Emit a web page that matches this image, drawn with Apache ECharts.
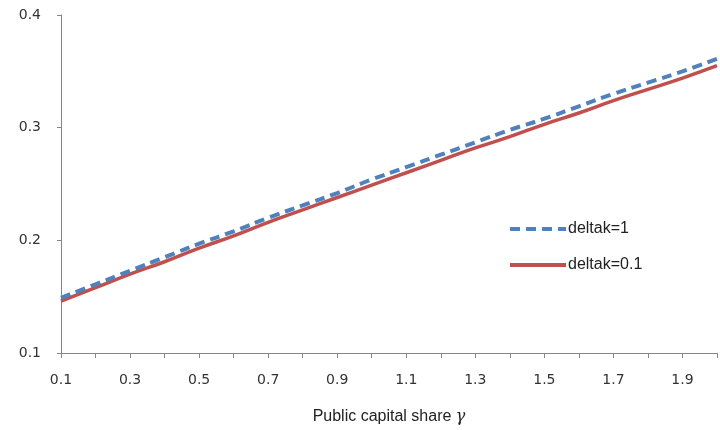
<!DOCTYPE html>
<html>
<head>
<meta charset="utf-8">
<script src="https://cdn.jsdelivr.net/npm/echarts@6/dist/echarts.min.js"></script>
<style>
  html, body { margin: 0; padding: 0; background: #fff; }
  #chart { width: 720px; height: 430px; }
</style>
</head>
<body>
<div id="chart"></div>
<script>
// public capital share gamma
const gammaVals = [0.1, 0.2, 0.3, 0.4, 0.5, 0.6, 0.7, 0.8, 0.9, 1.0,
                   1.1, 1.2, 1.3, 1.4, 1.5, 1.6, 1.7, 1.8, 1.9, 2.0];
const deltak1 = [0.149, 0.161, 0.173, 0.185, 0.197, 0.208, 0.220, 0.231, 0.242, 0.254,
                 0.265, 0.276, 0.287, 0.298, 0.308, 0.319, 0.330, 0.340, 0.350, 0.361];
const deltak01 = [0.146, 0.158, 0.170, 0.181, 0.193, 0.204, 0.216, 0.227, 0.238, 0.249,
                  0.260, 0.271, 0.282, 0.292, 0.303, 0.313, 0.324, 0.334, 0.344, 0.355];
const yTicks = [0.1, 0.2, 0.3, 0.4];

const chart = echarts.init(document.getElementById('chart'));

const pairs = arr => gammaVals.map((g, i) => [g, arr[i]]);
const axisGrey = '#868686';

const option = {
  animation: false,
  backgroundColor: '#fff',
  grid: { left: 61, right: -8, top: 15, bottom: 75 },
  legend: {
    orient: 'vertical',
    left: 503,
    top: 216,
    itemWidth: 56,
    itemHeight: 14,
    itemGap: 20,
    itemStyle: { color: 'transparent', borderColor: 'transparent', borderWidth: 0 },
    lineStyle: { width: 4 },
    textStyle: { fontFamily: 'Liberation Sans', fontSize: 16, color: '#222', padding: [0, 0, 0, -3] },
    data: ['deltak=1', 'deltak=0.1']
  },
  xAxis: {
    type: 'value',
    min: 0.1,
    max: 2.0,
    interval: 0.1,
    splitLine: { show: false },
    axisLine: { lineStyle: { color: axisGrey, width: 1 } },
    axisTick: { show: true, length: 5, lineStyle: { color: axisGrey } },
    axisLabel: {
      margin: 20,
      fontFamily: 'DejaVu Sans',
      fontSize: 14,
      color: '#333',
      formatter: v => {
        const k = Math.round(v * 10);
        if (Math.abs(v * 10 - k) > 1e-6) return '';
        return (k % 2 === 1) ? (k / 10).toFixed(1) : '';
      }
    },
    name: '{a|Public capital share }{g|γ}',
    nameLocation: 'middle',
    nameGap: 56,
    nameTextStyle: {
      rich: {
        a: { fontFamily: 'Liberation Sans', fontSize: 16, color: '#222' },
        g: { fontFamily: 'DejaVu Serif', fontStyle: 'italic', fontSize: 16, color: '#222' }
      }
    }
  },
  yAxis: {
    type: 'value',
    min: yTicks[0],
    max: yTicks[yTicks.length - 1],
    interval: 0.1,
    splitLine: { show: false },
    axisLine: { show: true, lineStyle: { color: axisGrey, width: 1 } },
    axisTick: { show: true, length: 4, lineStyle: { color: axisGrey } },
    axisLabel: {
      margin: 20,
      fontFamily: 'DejaVu Sans',
      fontSize: 14,
      color: '#333',
      formatter: v => v.toFixed(1)
    }
  },
  series: [
    {
      name: 'deltak=1',
      type: 'line',
      data: pairs(deltak1),
      symbol: 'none',
      smooth: true,
      z: 3,
      lineStyle: { color: '#4F81BD', width: 4, type: [10, 6] },
      itemStyle: { color: '#4F81BD' }
    },
    {
      name: 'deltak=0.1',
      type: 'line',
      data: pairs(deltak01),
      symbol: 'none',
      smooth: true,
      z: 2,
      lineStyle: { color: '#C0504D', width: 3.5 },
      itemStyle: { color: '#C0504D' }
    }
  ]
};

chart.setOption(option);
</script>
</body>
</html>
